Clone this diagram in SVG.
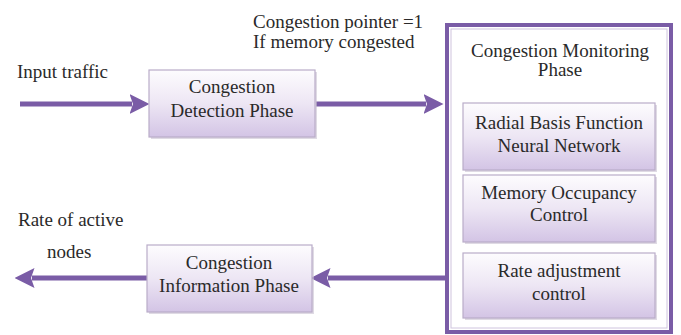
<svg xmlns="http://www.w3.org/2000/svg" width="681" height="335" viewBox="0 0 681 335" font-family="'Liberation Serif', 'DejaVu Serif', serif">
<style>
text{font-family:'Liberation Serif','Times New Roman','DejaVu Serif',serif;font-size:19px;fill:#2a2a2a}
.c{text-anchor:middle}
.box{fill:url(#g);stroke:#b9acc9;stroke-width:1.2}
.sh{fill:#c9c2d2;opacity:0.6}
.ln{stroke:#7a5ca6;stroke-width:5;fill:none}
</style>
<defs>
<linearGradient id="g" x1="0" y1="0" x2="0" y2="1">
<stop offset="0" stop-color="#fdfcfe"/>
<stop offset="0.5" stop-color="#ede6f4"/>
<stop offset="1" stop-color="#d3c4e5"/>
</linearGradient>
<marker id="ah" markerWidth="4" markerHeight="4" refX="0.5" refY="2" orient="auto" markerUnits="strokeWidth">
<path d="M0,0 L4,2 L0,4 L0.7,2 Z" fill="#7a5ca6"/>
</marker>
</defs>
<rect width="681" height="335" fill="#fff"/>
<g id="connectors">
<line class="ln" x1="20" y1="104" x2="132" y2="104" marker-end="url(#ah)"/>
<line class="ln" x1="316" y1="104" x2="426" y2="104" marker-end="url(#ah)"/>
<line class="ln" x1="446" y1="278" x2="328" y2="278" marker-end="url(#ah)"/>
<line class="ln" x1="147" y1="278" x2="32" y2="278" marker-end="url(#ah)"/>
</g>
<g id="labels">
<text x="17" y="78">Input traffic</text>
<text x="253" y="28">Congestion pointer  =1</text>
<text x="253" y="48">If memory congested</text>
<text x="18" y="226">Rate of active</text>
<text x="47" y="258">nodes</text>
</g>
<g id="detection">
<rect class="sh" x="151" y="72" width="166" height="67"/>
<rect class="box" x="149" y="70" width="166" height="67"/>
<text class="c" x="232" y="93">Congestion</text>
<text class="c" x="232" y="117">Detection Phase</text>
</g>
<g id="information">
<rect class="sh" x="149" y="247" width="165" height="67"/>
<rect class="box" x="147" y="245" width="165" height="67"/>
<text class="c" x="229" y="269">Congestion</text>
<text class="c" x="229" y="292">Information Phase</text>
</g>
<g id="monitoring">
<rect x="447" y="25" width="224" height="307" fill="#fff" stroke="#7a5ca6" stroke-width="4"/>
<rect x="451" y="29" width="216" height="299" fill="none" stroke="#cfc4de" stroke-width="1"/>
<text class="c" x="560" y="57">Congestion Monitoring</text>
<text class="c" x="560" y="76">Phase</text>
</g>
<g id="rbf">
<rect class="sh" x="465" y="105" width="192" height="67"/>
<rect class="box" x="463" y="103" width="192" height="67"/>
<text class="c" x="559" y="129">Radial Basis Function</text>
<text class="c" x="559" y="152">Neural Network</text>
</g>
<g id="memory">
<rect class="sh" x="465" y="177" width="192" height="67"/>
<rect class="box" x="463" y="175" width="192" height="67"/>
<text class="c" x="559" y="199">Memory Occupancy</text>
<text class="c" x="559" y="221">Control</text>
</g>
<g id="rate">
<rect class="sh" x="465" y="255" width="192" height="65"/>
<rect class="box" x="463" y="253" width="192" height="65"/>
<text class="c" x="559" y="277">Rate adjustment</text>
<text class="c" x="559" y="300">control</text>
</g>
</svg>
